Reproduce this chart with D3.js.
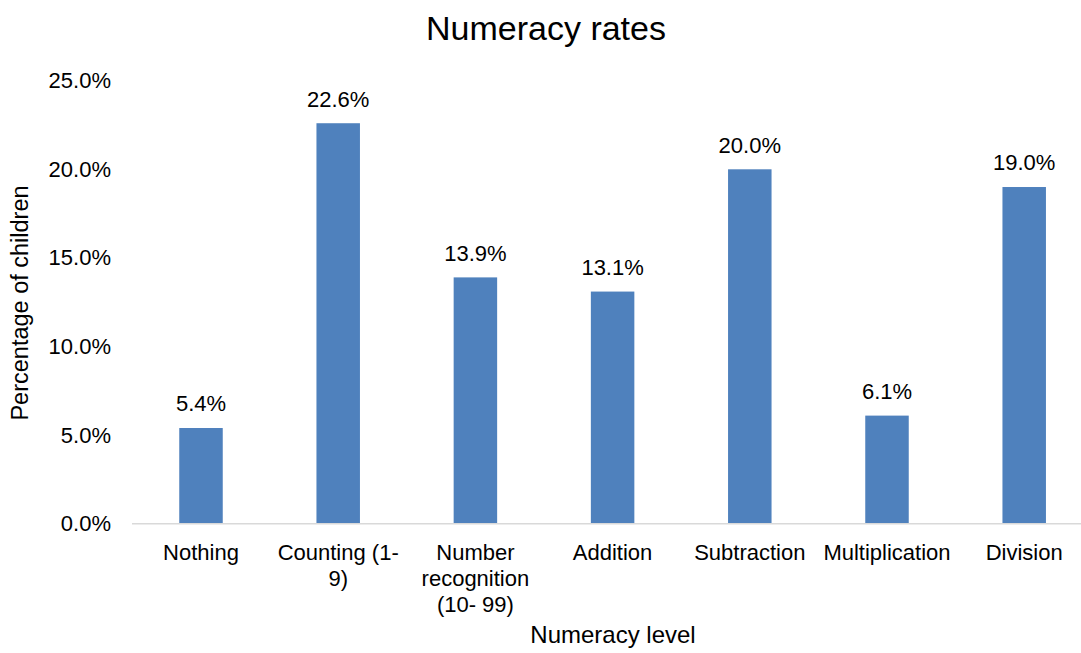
<!DOCTYPE html>
<html>
<head>
<meta charset="utf-8">
<script src="https://cdn.jsdelivr.net/npm/d3@7"></script>
<style>
  html, body { margin: 0; padding: 0; background: #fff; }
  svg { display: block; font-family: "Liberation Sans", Arial, Helvetica, sans-serif; }
</style>
</head>
<body>
<svg id="chart" width="1081" height="653"></svg>
<script>
const categories = [
  ["Nothing"],
  ["Counting (1-", "9)"],
  ["Number", "recognition", "(10- 99)"],
  ["Addition"],
  ["Subtraction"],
  ["Multiplication"],
  ["Division"]
];
const values = [5.4, 22.6, 13.9, 13.1, 20.0, 6.1, 19.0];
const yTicks = [0, 5, 10, 15, 20, 25];
const titleText = "Numeracy rates";
const xTitle = "Numeracy level";
const yTitle = "Percentage of children";

const svg = d3.select("#chart");
const keys = categories.map((c, i) => i);

const x = d3.scaleBand().domain(keys).range([132.4, 1092.8]).paddingInner(0).paddingOuter(0);
const y = d3.scaleLinear().domain([0, 25]).range([523.7, 80.7]);
const barW = x.bandwidth() * 0.317;

// Title
svg.append("text")
  .attr("x", 546).attr("y", 40)
  .attr("text-anchor", "middle")
  .attr("font-size", 34).attr("fill", "#000")
  .text(titleText);

// Y axis tick labels
const yAxis = d3.axisLeft(y).tickValues(yTicks).tickSize(0).tickPadding(0)
  .tickFormat(d => d.toFixed(1) + "%");
const yg = svg.append("g").attr("transform", "translate(111,0)").call(yAxis);
yg.select(".domain").remove();
yg.selectAll("text").attr("font-size", 22).attr("fill", "#000")
  .attr("font-family", "Liberation Sans, Arial, sans-serif");

// Bars
svg.append("g").selectAll("rect").data(values).join("rect")
  .attr("x", (d, i) => x(i) + x.bandwidth() / 2 - barW / 2)
  .attr("y", d => y(d))
  .attr("width", barW)
  .attr("height", d => y(0) - y(d))
  .attr("fill", "#4f81bd");

// Baseline
svg.append("line")
  .attr("x1", 132).attr("x2", 1081)
  .attr("y1", y(0)).attr("y2", y(0))
  .attr("stroke", "#d9d9d9").attr("stroke-width", 1.5);

// Data labels
svg.append("g").selectAll("text").data(values).join("text")
  .attr("x", (d, i) => x(i) + x.bandwidth() / 2)
  .attr("y", d => y(d) - 16.6)
  .attr("text-anchor", "middle")
  .attr("font-size", 22).attr("fill", "#000")
  .text(d => d.toFixed(1) + "%");

// X tick labels
const xl = svg.append("g").selectAll("text").data(categories).join("text")
  .attr("x", (d, i) => x(i) + x.bandwidth() / 2)
  .attr("y", 560)
  .attr("text-anchor", "middle")
  .attr("font-size", 22).attr("fill", "#000");
xl.selectAll("tspan").data(d => d).join("tspan")
  .attr("x", function() { return d3.select(this.parentNode).attr("x"); })
  .attr("dy", (d, i) => i === 0 ? 0 : 26)
  .text(d => d);

// X axis title
svg.append("text")
  .attr("x", 613).attr("y", 643)
  .attr("text-anchor", "middle")
  .attr("font-size", 24).attr("fill", "#000")
  .text(xTitle);

// Y axis title
svg.append("text")
  .attr("transform", "translate(28,303) rotate(-90)")
  .attr("text-anchor", "middle")
  .attr("font-size", 23.5).attr("fill", "#000")
  .text(yTitle);
</script>
</body>
</html>
